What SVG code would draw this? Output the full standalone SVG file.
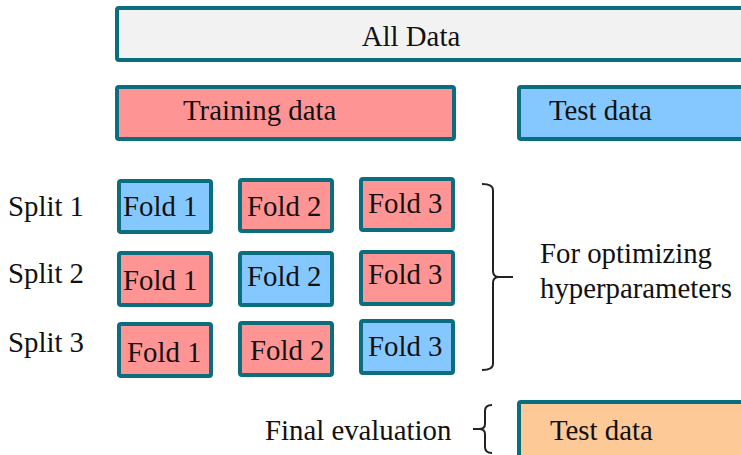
<svg xmlns="http://www.w3.org/2000/svg" width="741" height="455" viewBox="0 0 741 455">
  <style>
    .box { stroke: #0b6e7f; stroke-width: 4; }
    .all { fill: #f2f2f2; }
    .train { fill: #ff9494; }
    .test { fill: #85c8ff; }
    .final { fill: #fdc997; }
    text { font-family: "Liberation Serif", "Times New Roman", serif; font-size: 28.8px; fill: #111; }
    .brace { fill: none; stroke: #222; stroke-width: 2; }
  </style>
  <rect width="741" height="455" fill="#fff"/>

  <g id="all-data">
    <rect class="box all" x="117" y="8" width="640" height="52" rx="2"/>
    <text x="411" y="46" text-anchor="middle">All Data</text>
  </g>
  <g id="training-data">
    <rect class="box train" x="117" y="87" width="337" height="52" rx="2"/>
    <text x="183" y="120">Training data</text>
  </g>
  <g id="test-data">
    <rect class="box test" x="519" y="87" width="240" height="52" rx="2"/>
    <text x="549" y="120">Test data</text>
  </g>

  <g id="split-labels">
    <text x="8" y="216">Split 1</text>
    <text x="8" y="283">Split 2</text>
    <text x="8" y="352">Split 3</text>
  </g>

  <g id="split1">
    <g id="s1-fold1"><rect class="box test" x="119" y="181" width="92" height="51" rx="2"/><text x="123" y="216">Fold 1</text></g>
    <g id="s1-fold2"><rect class="box train" x="240" y="180" width="92" height="51" rx="2"/><text x="247" y="216">Fold 2</text></g>
    <g id="s1-fold3"><rect class="box train" x="361" y="179" width="92" height="51" rx="2"/><text x="368" y="213">Fold 3</text></g>
  </g>
  <g id="split2">
    <g id="s2-fold1"><rect class="box train" x="119" y="253" width="92" height="52" rx="2"/><text x="123" y="290">Fold 1</text></g>
    <g id="s2-fold2"><rect class="box test" x="240" y="253" width="92" height="52" rx="2"/><text x="247" y="286">Fold 2</text></g>
    <g id="s2-fold3"><rect class="box train" x="361" y="252" width="92" height="52" rx="2"/><text x="368" y="284">Fold 3</text></g>
  </g>
  <g id="split3">
    <g id="s3-fold1"><rect class="box train" x="119" y="324" width="92" height="52" rx="2"/><text x="127" y="362">Fold 1</text></g>
    <g id="s3-fold2"><rect class="box train" x="240" y="323" width="92" height="52" rx="2"/><text x="250" y="360">Fold 2</text></g>
    <g id="s3-fold3"><rect class="box test" x="361" y="321" width="92" height="52" rx="2"/><text x="368" y="356">Fold 3</text></g>
  </g>

  <g id="connectors">
    <!-- right brace grouping the three splits -->
    <path class="brace" d="M482 184 Q493 184 493 190 L493 271 Q493 277 499 277 L513 277 M499 277 Q493 277 493 283 L493 364 Q493 370 482 370"/>
    <!-- left brace for the final evaluation -->
    <path class="brace" d="M492 405 Q485 405 485 411 L485 424 Q485 429 479 429 L473 429 M479 429 Q485 429 485 434 L485 447 Q485 453 492 453"/>
  </g>

  <g id="opt-label">
    <text x="540" y="263">For optimizing</text>
    <text x="540" y="298">hyperparameters</text>
  </g>

  <g id="final-eval">
    <text x="265" y="440">Final evaluation</text>
  </g>
  <g id="final-test-data">
    <rect class="box final" x="519" y="402" width="240" height="60" rx="2"/>
    <text x="550" y="440">Test data</text>
  </g>
</svg>
